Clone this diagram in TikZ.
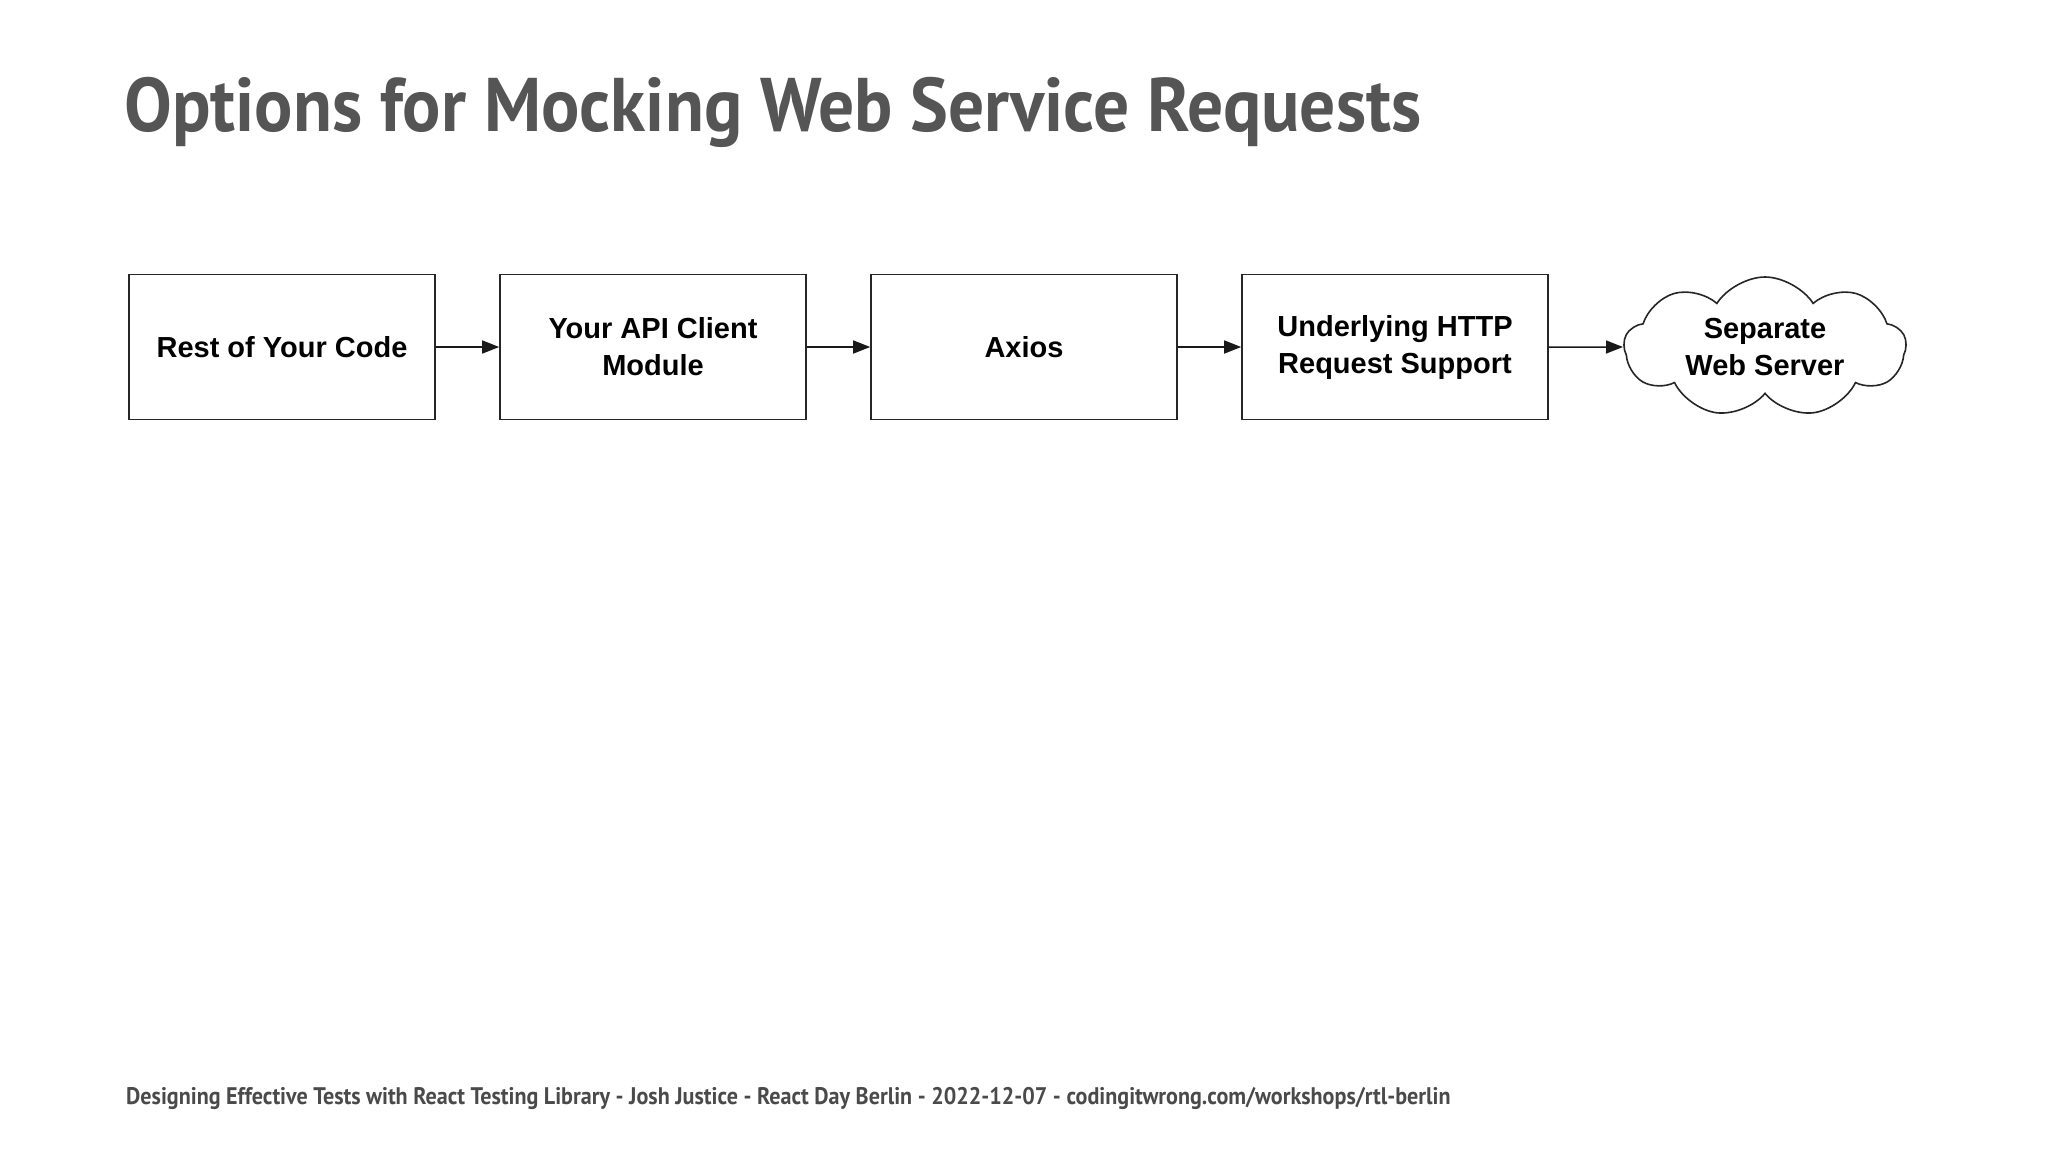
\documentclass[tikz,border=0pt]{standalone}
\usepackage{fontspec}
\setmainfont{Liberation Sans}
\newfontfamily\titlefont[FakeStretch=0.94]{PT Sans}
\newfontfamily\footfont[FakeStretch=0.92]{PT Sans}
\usetikzlibrary{shapes.symbols,arrows.meta}
\definecolor{titlegrey}{HTML}{555555}
\definecolor{footgrey}{HTML}{4A4A4A}
\tikzset{
  stagebox/.style={draw=black!85, line width=1.6pt, minimum width=306pt, minimum height=145pt, align=center, font=\fontsize{29}{37}\selectfont\bfseries, inner sep=0pt},
  cloudbox/.style={cloud, cloud puffs=9, cloud puff arc=115, cloud ignores aspect, draw=black!85, line width=1.6pt, minimum width=282pt, minimum height=140pt, align=center, font=\fontsize{29}{37}\selectfont\bfseries, inner sep=0pt},
  flow/.style={-{Triangle[length=17pt,width=13pt]}, line width=1.5pt, black!90}
}
\begin{document}
\begin{tikzpicture}[x=1pt,y=-1pt]
\useasboundingbox (0,0) rectangle (2048,1152);
\fill[white] (0,0) rectangle (2048,1152);
\node[anchor=base west, inner sep=0pt, text=titlegrey, font=\titlefont\fontsize{76}{80}\selectfont\bfseries] (title) at (124,131) {Options for Mocking Web Service Requests};
\node[stagebox] (a) at (282,347) {Rest of Your Code};
\node[stagebox] (b) at (653,347) {Your API Client\\Module};
\node[stagebox] (c) at (1024,347) {Axios};
\node[stagebox] (d) at (1395,347) {Underlying HTTP\\Request Support};
\node[cloudbox] (e) at (1765,347) {Separate\\Web Server};
\draw[flow] (a) -- (b);
\draw[flow] (b) -- (c);
\draw[flow] (c) -- (d);
\draw[flow] (d) -- (e);
\node[anchor=base west, inner sep=0pt, text=footgrey, font=\footfont\fontsize{24}{28}\selectfont\bfseries] (foot) at (126,1104) {Designing Effective Tests with React Testing Library - Josh Justice - React Day Berlin - 2022-12-07 - codingitwrong.com/workshops/rtl-berlin};
\end{tikzpicture}
\end{document}
